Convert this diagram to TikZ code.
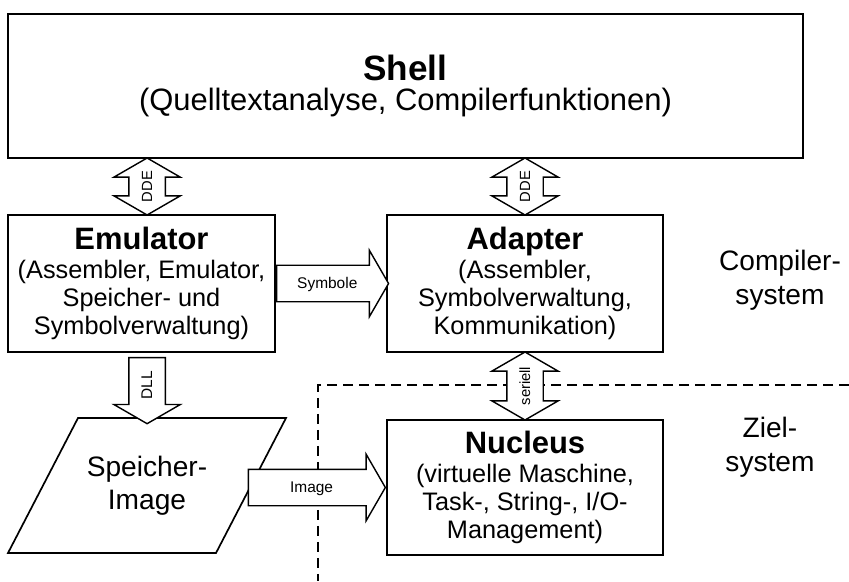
\documentclass[tikz,border=0pt]{standalone}
\usepackage{fontspec}
\setmainfont{Liberation Sans}
\usetikzlibrary{shapes.arrows,calc}

\newcommand{\boxhead}[2][22]{{\fontsize{#1}{#1}\selectfont\bfseries #2}}

\tikzset{
  box/.style={draw, line width=1.2pt, align=center, inner sep=0pt,
    font=\fontsize{18}{20}\selectfont},
  blockarrow/.style={draw, fill=white, line width=1pt, single arrow,
    single arrow head extend=0.375cm, single arrow tip angle=120,
    inner xsep=0pt, inner ysep=8.85pt, text height=7.2pt, text depth=0pt,
    font=\fontsize{11}{12}\selectfont},
  dblarrow/.style={draw, fill=white, line width=1pt, double arrow,
    double arrow head extend=0.375cm, double arrow tip angle=120,
    inner xsep=0pt, inner ysep=8.85pt, text height=7.2pt, text depth=0pt,
    font=\fontsize{10.5}{12}\selectfont},
  zone/.style={line width=1pt, dash pattern=on 0.25cm off 0.15cm},
  side/.style={align=center, font=\fontsize{20}{24}\selectfont}
}

\begin{document}
\begin{tikzpicture}
  \useasboundingbox (0,0) rectangle (21.225,-14.525);

  % Kaesten
  \node[box, minimum width=19.875cm, minimum height=3.6cm,
    font=\fontsize{22}{22}\selectfont] (shell) at (10.1375,-2.15)
    {\boxhead[25]{Shell}\\(Quelltextanalyse, Compilerfunktionen)};
  \node[box, minimum width=6.675cm, minimum height=3.425cm] (emu) at (3.5375,-7.0875)
    {\boxhead{Emulator}\\[1pt](Assembler, Emulator,\\Speicher- und\\Symbolverwaltung)};
  \node[box, minimum width=6.9cm, minimum height=3.425cm] (adapt) at (13.125,-7.0875)
    {\boxhead{Adapter}\\[1pt](Assembler,\\Symbolverwaltung,\\Kommunikation)};
  \node[box, minimum width=6.9cm, minimum height=3.375cm] (nucleus) at (13.125,-12.1875)
    {\boxhead{Nucleus}\\[1pt](virtuelle Maschine,\\Task-, String-, I/O-\\Management)};

  % Speicher-Image (Parallelogramm)
  \coordinate (sp1) at (1.95,-10.45);
  \coordinate (sp2) at (7.15,-10.45);
  \coordinate (sp3) at (5.4,-13.825);
  \coordinate (sp4) at (0.2,-13.825);
  \draw[line width=1.2pt] (sp1) -- (sp2) -- (sp3) -- (sp4) -- cycle;
  \node[align=center, font=\fontsize{20}{23.5}\selectfont] (speicher)
    at ($(sp1)!.5!(sp3)$) {Speicher-\\Image};

  % Grenze Compiler-/Zielsystem
  \coordinate (zonecorner) at (7.95,-9.625);
  \coordinate (zoneright) at (21.225,-9.625);
  \coordinate (zonebottom) at (7.95,-14.525);
  \draw[zone] (zoneright) -- (zonecorner) -- (zonebottom);

  % Schnittstellen
  \node[dblarrow, rotate=90, minimum height=1.425cm] (ddeemu)
    at ($(shell.south -| emu.north)!.5!(emu.north) + (0.14,0)$) {\makebox[0pt]{DDE}};
  \node[dblarrow, rotate=90, minimum height=1.425cm] (ddeadapt)
    at ($(shell.south -| adapt.north)!.5!(adapt.north)$) {\makebox[0pt]{DDE}};
  \node[blockarrow, anchor=tail, minimum height=2.8cm] (symb) at (emu.east) {Symbole};
  \node[blockarrow, shape border rotate=180, rotate=90, minimum height=1.65cm] (dll)
    at ($(emu.south)!.5!(emu.south |- sp1) + (0.14,0)$) {\makebox[0pt]{DLL}};
  \node[dblarrow, rotate=90, minimum height=1.7cm] (seriell)
    at ($(adapt.south)!.5!(nucleus.north)$) {\makebox[0pt]{seriell}};
  \node[blockarrow, anchor=tip, minimum height=3.425cm] (img) at (nucleus.west) {Image};

  % Beschriftung rechts
  \node[side] (compsys) at (19.5,-7.0) {Compiler-\\system};
  \node[side] (zielsys) at (19.25,-11.175) {Ziel-\\system};
\end{tikzpicture}
\end{document}
